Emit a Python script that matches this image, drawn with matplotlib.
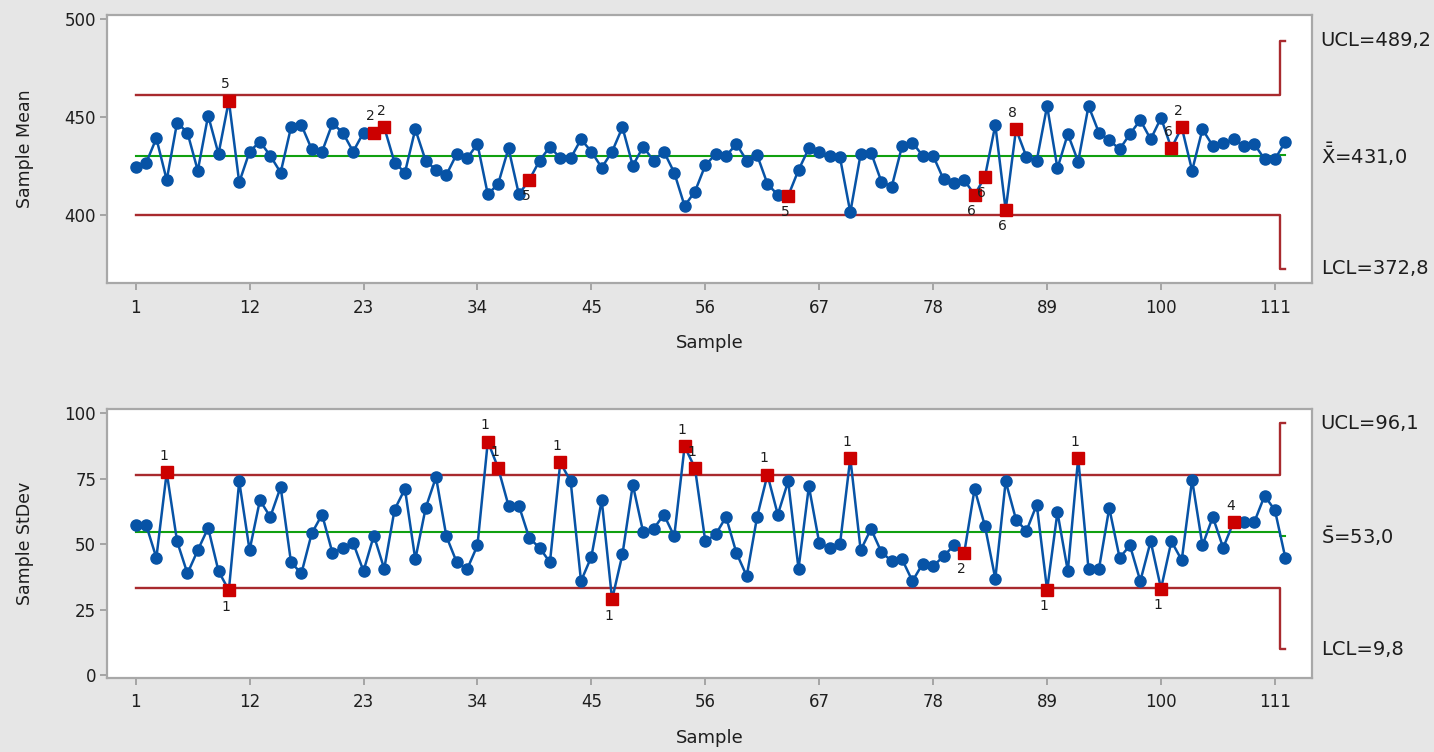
import numpy as np
import matplotlib
matplotlib.use("Agg")
from matplotlib import pyplot as plt
import matplotlib.transforms as mtransforms

samples = np.arange(1, 113)

sample_means = [424.5, 426.5, 439.3, 418.0, 447.3, 442.2, 422.8, 450.9, 431.3, 458.5,
                416.8, 432.5, 437.6, 430.4, 421.8, 444.9, 446.1, 433.7, 432.5, 446.9,
                442.2, 432.5, 442.2, 442.2, 444.9, 426.9, 421.8, 443.9, 427.9, 423.1,
                420.6, 431.3, 429.1, 436.4, 410.7, 416.0, 434.2, 410.7, 418.0, 427.9,
                435.0, 429.1, 429.1, 438.8, 432.5, 424.3, 432.5, 444.9, 425.3, 435.0,
                427.9, 432.5, 421.8, 404.8, 412.1, 425.5, 431.3, 430.3, 436.4, 427.9,
                430.8, 416.0, 410.4, 409.9, 423.1, 434.2, 432.5, 430.3, 429.6, 401.5,
                431.3, 432.0, 417.2, 414.6, 435.4, 437.1, 430.3, 430.3, 418.4, 416.7,
                418.0, 410.4, 419.7, 446.1, 402.7, 443.9, 429.9, 427.9, 455.8, 424.0,
                441.5, 427.4, 455.8, 442.2, 438.4, 433.7, 441.5, 448.6, 438.8, 449.7,
                434.2, 444.9, 422.8, 443.9, 435.4, 436.7, 438.8, 435.4, 436.4, 428.6,
                428.6, 437.6]

sample_sd = [57.5, 57.5, 44.8, 77.4, 51.1, 38.8, 47.7, 56.2, 39.7, 32.4,
             74.0, 47.7, 66.8, 60.4, 71.8, 43.1, 38.8, 54.1, 61.3, 46.7,
             48.6, 50.5, 39.7, 53.3, 40.6, 63.2, 71.1, 44.2, 63.8, 75.6,
             53.0, 43.1, 40.4, 49.5, 89.2, 79.1, 64.7, 64.7, 52.4, 48.6,
             43.1, 81.2, 74.0, 35.9, 45.2, 66.8, 28.9, 46.1, 72.7, 54.6,
             55.8, 61.3, 53.0, 87.3, 79.1, 51.1, 53.7, 60.4, 46.7, 37.8,
             60.4, 76.5, 61.3, 74.0, 40.6, 72.1, 50.5, 48.6, 49.9, 82.9,
             47.7, 55.8, 47.0, 43.5, 44.2, 35.9, 42.6, 41.6, 45.4, 49.5,
             46.7, 71.1, 56.9, 36.8, 74.0, 59.4, 55.0, 65.1, 32.5, 62.2,
             39.7, 82.9, 40.4, 40.4, 63.8, 44.8, 49.5, 35.9, 51.1, 33.0,
             51.1, 43.9, 74.6, 49.5, 60.4, 48.6, 58.4, 58.4, 58.4, 68.5,
             62.9, 44.8]

# limits: (all samples but the last, last sample)
xbar_ucl = (461.6, 489.2)
xbar_cl = (430.5, 431.0)
xbar_lcl = (400.0, 372.8)
s_ucl = (76.4, 96.1)
s_cl = (54.8, 53.0)
s_lcl = (33.1, 9.8)

xbar_flags = {10: "5", 24: "2", 25: "2", 39: "5", 64: "5", 82: "6", 83: "6",
              85: "6", 86: "8", 101: "6", 102: "2"}
s_flags = {4: "1", 10: "1", 35: "1", 36: "1", 42: "1", 47: "1", 54: "1", 55: "1",
           62: "1", 70: "1", 81: "2", 89: "1", 92: "1", 100: "1", 107: "4"}

xbar_labels = ("UCL=489,2", r"$\bar{\bar{\mathrm{X}}}$=431,0", "LCL=372,8")
s_labels = ("UCL=96,1", r"$\bar{\mathrm{S}}$=53,0", "LCL=9,8")

BLUE = "#0753a6"
RED = "#cc0000"
LIMIT = "#a82a2e"
GREEN = "#10a010"
BG = "#e6e6e6"
TXT = "#1e1e1e"

plt.rcParams["font.family"] = ["DejaVu Sans"]
plt.rcParams["mathtext.fontset"] = "dejavusans"


def limitLine(ax, lim, color, lw=1.7):
    vals = np.full(len(samples), lim[0])
    vals[-1] = lim[1]
    ax.step(samples, vals, where="mid", color=color, lw=lw, zorder=2)


def drawChart(ax, values, flags, ucl, cl, lcl, labels, ylabel, ylim, yticks):
    values = np.asarray(values)
    ax.set_facecolor("white")
    limitLine(ax, ucl, LIMIT)
    limitLine(ax, lcl, LIMIT)
    limitLine(ax, cl, GREEN, lw=1.5)

    ax.plot(samples, values, color=BLUE, lw=1.8, zorder=3)
    ok = np.array([s not in flags for s in samples])
    ax.plot(samples[ok], values[ok], "o", color=BLUE, ms=8, zorder=4)
    ax.plot(samples[~ok], values[~ok], "s", color=RED, ms=8, zorder=5)

    span = ylim[1] - ylim[0]
    for s, t in flags.items():
        v = values[s - 1]
        if v > cl[0]:
            ax.text(s - 0.3, v + span * 0.035, t, ha="center", va="bottom",
                    fontsize=10, color=TXT, zorder=6)
        else:
            ax.text(s - 0.3, v - span * 0.035, t, ha="center", va="top",
                    fontsize=10, color=TXT, zorder=6)

    ax.set_xlim(-1.74, 114.6)
    ax.set_ylim(*ylim)
    ax.set_xticks(np.arange(1, 112, 11))
    ax.set_yticks(yticks)
    ax.tick_params(axis="both", colors="#9a9a9a", labelcolor=TXT, labelsize=12,
                   length=5, width=1.2)
    ax.tick_params(axis="x", pad=6)
    ax.tick_params(axis="y", pad=3)
    for sp in ax.spines.values():
        sp.set_color("#a8a8a8")
        sp.set_linewidth(1.6)

    ax.set_xlabel("Sample", fontsize=13, color=TXT)
    ax.xaxis.set_label_coords(0.5, -0.19)
    ax.set_ylabel(ylabel, fontsize=12.5, color=TXT)
    ax.yaxis.set_label_coords(-0.061, 0.5)

    trans = mtransforms.blended_transform_factory(ax.transAxes, ax.transData)
    for txt, y in zip(labels, (ucl[1], cl[1], lcl[1])):
        ax.text(1.007, y, txt, transform=trans, ha="left", va="center",
                fontsize=14, color=TXT, clip_on=False)


fig = plt.figure(figsize=(14.34, 7.52), dpi=100, facecolor=BG)
ax1 = fig.add_axes([0.0748, 0.6233, 0.8403, 0.3567])
ax2 = fig.add_axes([0.0748, 0.0988, 0.8403, 0.3569])

drawChart(ax1, sample_means, xbar_flags, xbar_ucl, xbar_cl, xbar_lcl, xbar_labels,
          "Sample Mean", (365.3, 502.2), [400, 450, 500])
drawChart(ax2, sample_sd, s_flags, s_ucl, s_cl, s_lcl, s_labels,
          "Sample StDev", (-1.0, 101.5), [0, 25, 50, 75, 100])

fig.savefig("out.png", dpi=100, facecolor=BG)
